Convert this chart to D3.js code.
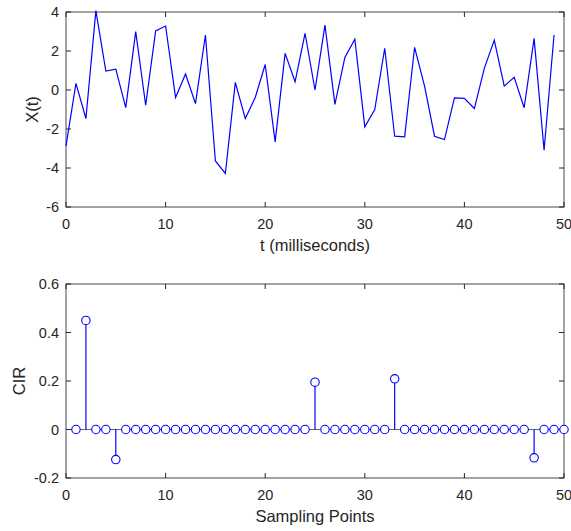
<!DOCTYPE html>
<html lang="en">
<head>
  <meta charset="UTF-8">
  <title>Signal and CIR</title>
  <style>
    body { margin: 0; background: #fff; }
    text { font-family: 'Liberation Sans', Arial, sans-serif; fill: #262626; }
  </style>
</head>
<body>
  <div id="chart"></div>
  <script src="https://d3js.org/d3.v7.min.js"></script>
  <script>
    const width = 571
    const height = 531

    // top panel: received signal, t = 0..49
    const tValues = d3.range(0, 50)
    const xValues = [
      -2.87, 0.34, -1.46, 4.07, 0.97, 1.07, -0.9, 2.99, -0.78, 3.03,
      3.28, -0.38, 0.82, -0.7, 2.82, -3.64, -4.28, 0.39, -1.46, -0.38,
      1.31, -2.66, 1.88, 0.42, 2.91, 0.0, 3.33, -0.74, 1.67, 2.61,
      -1.89, -1.0, 2.14, -2.37, -2.4, 2.19, 0.2, -2.37, -2.54, -0.4,
      -0.43, -0.95, 1.11, 2.56, 0.2, 0.65, -0.91, 2.65, -3.09, 2.82
    ]

    // bottom panel: channel impulse response, sampling points 1..50
    const cirPoints = d3.range(1, 51)
    const cirTaps = [2, 5, 25, 33, 47]
    const cirTapValues = [0.45, -0.124, 0.195, 0.209, -0.117]
    const cirValues = cirPoints.map(p => {
      const i = cirTaps.indexOf(p)
      return i < 0 ? 0 : cirTapValues[i]
    })

    const topYTicks = [-6, -4, -2, 0, 2, 4]
    const botYTicks = [-0.2, 0, 0.2, 0.4, 0.6]
    const botYLabels = ['-0.2', '0', '0.2', '0.4', '0.6']
    const xTicks = [0, 10, 20, 30, 40, 50]

    const svg = d3.select('#chart').append('svg')
      .attr('width', width)
      .attr('height', height)

    const left = 66, right = 564
    const axisColor = '#262626'
    const blue = '#0000ff'
    const tickFont = 14.5
    const labelFont = 16.5

    function frame(top, bottom, x, y, yTicks, yLabels, xLabel, yLabel, labelX) {
      const g = svg.append('g')
      const tl = 5
      // ticks on all four sides, pointing inward
      xTicks.forEach(v => {
        g.append('line').attr('x1', x(v)).attr('x2', x(v)).attr('y1', bottom).attr('y2', bottom - tl)
        g.append('line').attr('x1', x(v)).attr('x2', x(v)).attr('y1', top).attr('y2', top + tl)
        g.append('text').attr('x', x(v)).attr('y', bottom + 22)
          .attr('text-anchor', 'middle').attr('font-size', tickFont).text(v)
      })
      yTicks.forEach((v, i) => {
        g.append('line').attr('x1', left).attr('x2', left + tl).attr('y1', y(v)).attr('y2', y(v))
        g.append('line').attr('x1', right).attr('x2', right - tl).attr('y1', y(v)).attr('y2', y(v))
        g.append('text').attr('x', left - 7).attr('y', y(v)).attr('dy', '0.35em')
          .attr('text-anchor', 'end').attr('font-size', tickFont).text(yLabels[i])
      })
      g.selectAll('line').attr('stroke', axisColor).attr('stroke-width', 1)
      g.append('rect')
        .attr('x', left).attr('y', top)
        .attr('width', right - left).attr('height', bottom - top)
        .attr('fill', 'none').attr('stroke', axisColor).attr('stroke-width', 1).attr('opacity', 0.85)
      g.append('text').attr('x', (left + right) / 2).attr('y', bottom + 44)
        .attr('text-anchor', 'middle').attr('font-size', labelFont).text(xLabel)
      g.append('text')
        .attr('transform', `translate(${labelX}, ${(top + bottom) / 2}) rotate(-90)`)
        .attr('text-anchor', 'middle').attr('dy', '0.35em').attr('font-size', labelFont).text(yLabel)
      return g
    }

    /******* top panel *******/
    const x1 = d3.scaleLinear().domain([0, 50]).range([left, right])
    const y1 = d3.scaleLinear().domain([-6, 4]).range([207, 12])

    frame(12, 207, x1, y1, topYTicks, topYTicks.map(String), 't (milliseconds)', 'X(t)', 32)

    const line = d3.line().x((d, i) => x1(tValues[i])).y(d => y1(d))
    svg.append('path')
      .datum(xValues)
      .attr('d', line)
      .attr('fill', 'none')
      .attr('stroke', blue)
      .attr('stroke-width', 1.2)

    /******* bottom panel *******/
    const x2 = d3.scaleLinear().domain([0, 50]).range([left, right])
    const y2 = d3.scaleLinear().domain([-0.2, 0.6]).range([478, 284])

    frame(284, 478, x2, y2, botYTicks, botYLabels, 'Sampling Points', 'CIR', 19)

    // baseline
    svg.append('line')
      .attr('x1', left).attr('x2', right)
      .attr('y1', y2(0)).attr('y2', y2(0))
      .attr('stroke', '#262626').attr('stroke-width', 1).attr('opacity', 0.7)

    const stems = svg.append('g')
    stems.selectAll('line')
      .data(cirValues)
      .enter()
      .append('line')
      .attr('x1', (d, i) => x2(cirPoints[i]))
      .attr('x2', (d, i) => x2(cirPoints[i]))
      .attr('y1', y2(0))
      .attr('y2', d => y2(d))
      .attr('stroke', blue)
      .attr('stroke-width', 1.2)

    stems.selectAll('circle')
      .data(cirValues)
      .enter()
      .append('circle')
      .attr('cx', (d, i) => x2(cirPoints[i]))
      .attr('cy', d => y2(d))
      .attr('r', 4.2)
      .attr('fill', '#fff')
      .attr('stroke', blue)
      .attr('stroke-width', 1.1)
  </script>
</body>
</html>
